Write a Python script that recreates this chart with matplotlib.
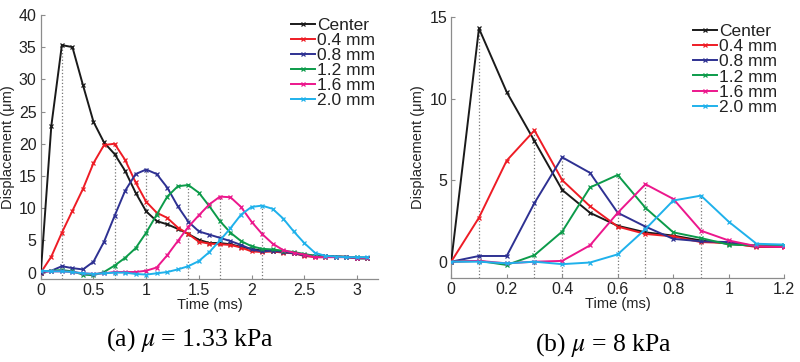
import matplotlib
matplotlib.use('Agg')
import numpy as np
import matplotlib.pyplot as plt

plt.rcParams['font.family'] = ['Liberation Sans', 'DejaVu Sans']

labels = ['Center', '0.4 mm', '0.8 mm', '1.2 mm', '1.6 mm', '2.0 mm']
colors = ['#1a1a1a', '#ee1c25', '#2e3192', '#0c9b4a', '#ec178c', '#1fb1eb']

# (a) mu = 1.33 kPa, t = 0 .. 3.1 ms
t_a = np.arange(32) * 0.1
a_center = [0, 22.8, 35.3, 35.0, 29.1, 23.4, 20.2, 18.4, 15.8, 12.4, 9.5, 8.0, 7.5, 6.8, 6.0, 5.1,
            4.6, 4.6, 4.4, 4.0, 3.7, 3.4, 3.3, 3.2, 3.0, 2.8, 2.6, 2.6, 2.5, 2.5, 2.2, 2.2]
a_04 = [0, 2.5, 6.2, 9.6, 13.0, 17.0, 19.8, 20.0, 17.5, 14.0, 11.0, 9.3, 8.5, 7.0, 6.0, 4.8,
        4.5, 4.4, 4.3, 3.9, 3.3, 3.2, 3.3, 3.1, 3.0, 2.6, 2.4, 2.4, 2.5, 2.4, 2.3, 2.3]
a_08 = [0, 0.3, 1.0, 0.7, 0.5, 1.7, 4.8, 8.8, 12.7, 15.3, 16.0, 15.3, 13.2, 10.3, 7.9, 6.4,
        5.9, 5.4, 4.9, 4.3, 3.6, 3.3, 3.4, 3.2, 3.0, 2.7, 2.6, 2.6, 2.5, 2.4, 2.3, 2.3]
a_12 = [0.2, 0.3, 0.4, 0.2, -0.3, -0.4, 0.1, 1.1, 2.3, 3.8, 6.2, 9.0, 11.8, 13.4, 13.6, 12.4,
        10.3, 8.0, 6.2, 4.9, 4.1, 3.7, 3.6, 3.4, 3.2, 2.9, 2.6, 2.5, 2.5, 2.4, 2.4, 2.3]
a_16 = [0.2, 0.2, 0.2, 0.1, -0.1, -0.2, -0.1, 0.1, 0.1, 0.1, 0.3, 0.8, 2.7, 4.9, 7.1, 8.9,
        10.6, 11.8, 11.7, 10.2, 7.9, 6.0, 4.5, 3.5, 3.1, 2.8, 2.4, 2.4, 2.4, 2.4, 2.3, 2.3]
a_20 = [0.3, 0.2, 0.2, 0.1, -0.1, -0.2, -0.1, 0.0, 0.0, -0.2, -0.3, -0.1, 0.1, 0.5, 1.0, 1.8,
        3.2, 5.0, 6.9, 9.0, 10.2, 10.4, 9.9, 8.4, 6.4, 4.6, 3.1, 2.6, 2.5, 2.4, 2.4, 2.4]

# (b) mu = 8 kPa, t = 0 .. 1.2 ms
t_b = np.arange(13) * 0.1
b_center = [0, 14.3, 10.4, 7.4, 4.4, 3.0, 2.2, 1.8, 1.6, 1.3, 1.1, 0.95, 0.95]
b_04 = [0, 2.7, 6.2, 8.05, 5.0, 3.4, 2.15, 1.7, 1.55, 1.2, 1.15, 0.9, 0.9]
b_08 = [0, 0.35, 0.35, 3.6, 6.4, 5.45, 3.0, 2.15, 1.4, 1.25, 1.2, 0.95, 0.95]
b_12 = [0, 0.05, -0.2, 0.4, 1.85, 4.55, 5.32, 3.3, 1.8, 1.45, 1.05, 1.0, 1.0]
b_16 = [0, 0.05, -0.1, 0.0, 0.05, 1.0, 3.0, 4.75, 3.85, 1.9, 1.3, 0.95, 0.9]
b_20 = [0, 0.0, -0.1, 0.0, -0.15, -0.05, 0.45, 2.0, 3.75, 4.05, 2.45, 1.1, 1.05]


def draw_panel(ax, t, series, xlim, ylim, xticks, yticks, xticklabels, leg_pad):
    # dotted guides from the axis up to each curve's peak
    for s in series:
        s = np.asarray(s)
        k = int(np.argmax(s))
        ax.plot([t[k], t[k]], [ylim[0], s[k]], ls=':', color='#777777', lw=0.9, zorder=1)
    for s, c, lab in zip(series, colors, labels):
        ax.plot(t, s, color=c, lw=1.4, marker='x', ms=3, mew=0.9, label=lab, zorder=3)
    ax.set_xlim(*xlim)
    ax.set_ylim(*ylim)
    ax.set_xticks(xticks)
    ax.set_xticklabels(xticklabels)
    ax.set_yticks(yticks)
    for side in ('top', 'right'):
        ax.spines[side].set_visible(False)
    for side in ('left', 'bottom'):
        ax.spines[side].set_color('#8c8c8c')
        ax.spines[side].set_linewidth(0.9)
    ax.tick_params(direction='in', length=3, color='#8c8c8c', labelsize=11.5, labelcolor='#222222', pad=3)
    ax.set_xlabel('Time (ms)', fontsize=10.5, color='#222222', labelpad=0)
    ax.set_ylabel('Displacement (\u03bcm)', fontsize=10.5, color='#222222', labelpad=3)
    leg = ax.legend(loc='upper right', bbox_to_anchor=(1.0, 1.0), frameon=False, fontsize=12.5,
                    handlelength=1.4, handletextpad=0.12, labelspacing=0.0, borderpad=0,
                    borderaxespad=leg_pad, numpoints=1)
    for txt in leg.get_texts():
        txt.set_color('#222222')


fig = plt.figure(figsize=(8, 3.62), dpi=100)
ax1 = fig.add_axes([0.051, 0.229, 0.4215, 0.730])
ax2 = fig.add_axes([0.564, 0.232, 0.4163, 0.721])

draw_panel(ax1, t_a, [a_center, a_04, a_08, a_12, a_16, a_20], (0, 3.2), (-1, 40),
           [0, 0.5, 1, 1.5, 2, 2.5, 3], [0, 5, 10, 15, 20, 25, 30, 35, 40],
           ['0', '0.5', '1', '1.5', '2', '2.5', '3'], 0.15)
draw_panel(ax2, t_b, [b_center, b_04, b_08, b_12, b_16, b_20], (0, 1.2), (-1, 15),
           [0, 0.2, 0.4, 0.6, 0.8, 1.0, 1.2], [0, 5, 10, 15],
           ['0', '0.2', '0.4', '0.6', '0.8', '1', '1.2'], 0.4)

fig.text(0.2375, 0.06, '(a) $\\mu$ = 1.33 kPa', ha='center', va='center', fontsize=18.5,
         family='Liberation Serif', math_fontfamily='stix')
fig.text(0.754, 0.047, '(b) $\\mu$ = 8 kPa', ha='center', va='center', fontsize=18.5,
         family='Liberation Serif', math_fontfamily='stix')

fig.savefig('out.png', dpi=100)
